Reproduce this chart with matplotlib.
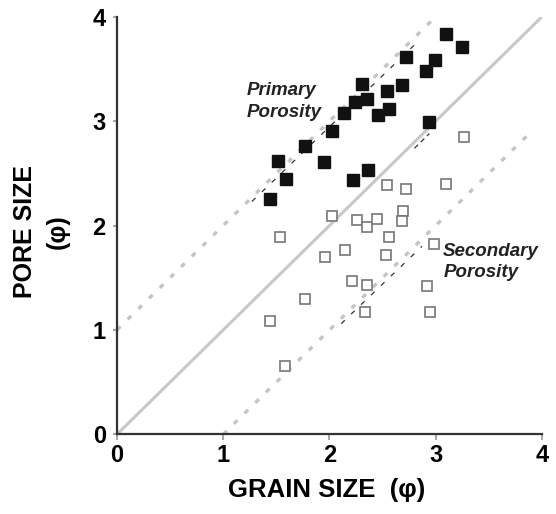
import matplotlib
matplotlib.use("Agg")
import matplotlib.pyplot as plt

plt.rcParams.update({
    'font.family': ['Liberation Sans', 'DejaVu Sans'],
    'font.weight': 'bold',
})

# Primary porosity (filled squares): grain size, pore size
primary_x = [1.44, 1.52, 1.59, 1.77, 1.95, 2.02, 2.14, 2.24, 2.35, 2.31, 2.22,
             2.36, 2.46, 2.56, 2.54, 2.68, 2.72, 2.91, 2.99, 2.94, 3.10, 3.25]
primary_y = [2.25, 2.62, 2.45, 2.76, 2.61, 2.91, 3.08, 3.18, 3.21, 3.36, 2.44,
             2.53, 3.06, 3.12, 3.29, 3.35, 3.61, 3.48, 3.59, 2.99, 3.83, 3.71]

# Secondary porosity (open squares)
secondary_x = [3.27, 3.10, 2.54, 2.72, 2.02, 2.26, 2.35, 2.45, 2.69, 2.68, 1.53, 2.56,
               1.96, 2.15, 2.53, 2.98, 2.21, 2.35, 2.92, 1.77, 1.44, 2.33, 2.95, 1.58]
secondary_y = [2.85, 2.40, 2.39, 2.35, 2.09, 2.05, 1.99, 2.06, 2.14, 2.04, 1.89, 1.89,
               1.70, 1.77, 1.72, 1.82, 1.47, 1.43, 1.42, 1.30, 1.09, 1.17, 1.17, 0.65]

# reference lines
one_to_one_x = [0, 4]
one_to_one_y = [0, 4]
upper_x = [0, 3.0]
upper_y = [1.0, 4.0]
lower_x = [1.0, 3.9]
lower_y = [0, 2.9]

# hand-drawn fit lines
primary_fit_x = [1.27, 2.83]
primary_fit_y = [2.23, 3.76]
primary_tick_x = [2.80, 2.94]
primary_tick_y = [2.74, 2.88]
secondary_fit_x = [2.11, 2.87]
secondary_fit_y = [1.06, 1.80]

ticks = [0, 1, 2, 3, 4]

fig = plt.figure(figsize=(5.56, 5.14), dpi=100)
ax = fig.add_axes([0.2104, 0.155, 0.7644, 0.8125])

ax.plot(one_to_one_x, one_to_one_y, color='#c8c8c8', linewidth=2.2, zorder=1)
ax.plot(upper_x, upper_y, color='#c4c4c4', linewidth=2.4, dashes=(1.5, 3), zorder=1)
ax.plot(lower_x, lower_y, color='#c4c4c4', linewidth=2.4, dashes=(1.5, 3), zorder=1)

ax.plot(primary_fit_x, primary_fit_y, color='#333333', linewidth=0.9, dashes=(4, 7), zorder=2)
ax.plot(primary_tick_x, primary_tick_y, color='#333333', linewidth=0.9, dashes=(4, 3), zorder=2)
ax.plot(secondary_fit_x, secondary_fit_y, color='#333333', linewidth=0.9, dashes=(4, 7), zorder=2)

ax.plot(secondary_x, secondary_y, linestyle='none', marker='s', markersize=7.5,
        markerfacecolor='white', markeredgecolor='#777777', markeredgewidth=1.2, zorder=3)
ax.plot(primary_x, primary_y, linestyle='none', marker='s', markersize=8.5,
        color='#111111', zorder=4, clip_on=False)

ax.text(1.22, 3.19, "Primary\nPorosity", fontsize=13.5, fontstyle='italic',
        fontweight='bold', linespacing=1.35, va='center', ha='left', color='#222222')
ax.text(3.07, 1.65, "Secondary\nPorosity", fontsize=13.5, fontstyle='italic',
        fontweight='bold', linespacing=1.35, va='center', ha='left', color='#222222')

ax.set_xlim(0, 4)
ax.set_ylim(0, 4)
ax.set_xticks(ticks)
ax.set_yticks(ticks)
ax.set_xticklabels([str(t) for t in ticks], fontsize=17, fontweight='bold')
ax.set_yticklabels([str(t) for t in ticks], fontsize=17, fontweight='bold')
ax.tick_params(axis='x', direction='out', length=4, width=1.5, color='#aaaaaa', pad=3)
ax.tick_params(axis='y', direction='out', length=3, width=1.5, color='#aaaaaa', pad=5)

for side in ['top', 'right']:
    ax.spines[side].set_visible(False)
for side in ['left', 'bottom']:
    ax.spines[side].set_color('#333333')
    ax.spines[side].set_linewidth(1.6)

fig.text(0.587, 0.047, "GRAIN SIZE  (\u03c6)", fontsize=18.5, fontweight='bold',
         ha='center', va='center')
fig.text(0.075, 0.55, "PORE SIZE\n(\u03c6)", fontsize=18, fontweight='bold',
         rotation=90, ha='center', va='center', linespacing=1.45)

fig.savefig("out.png", dpi=100)
